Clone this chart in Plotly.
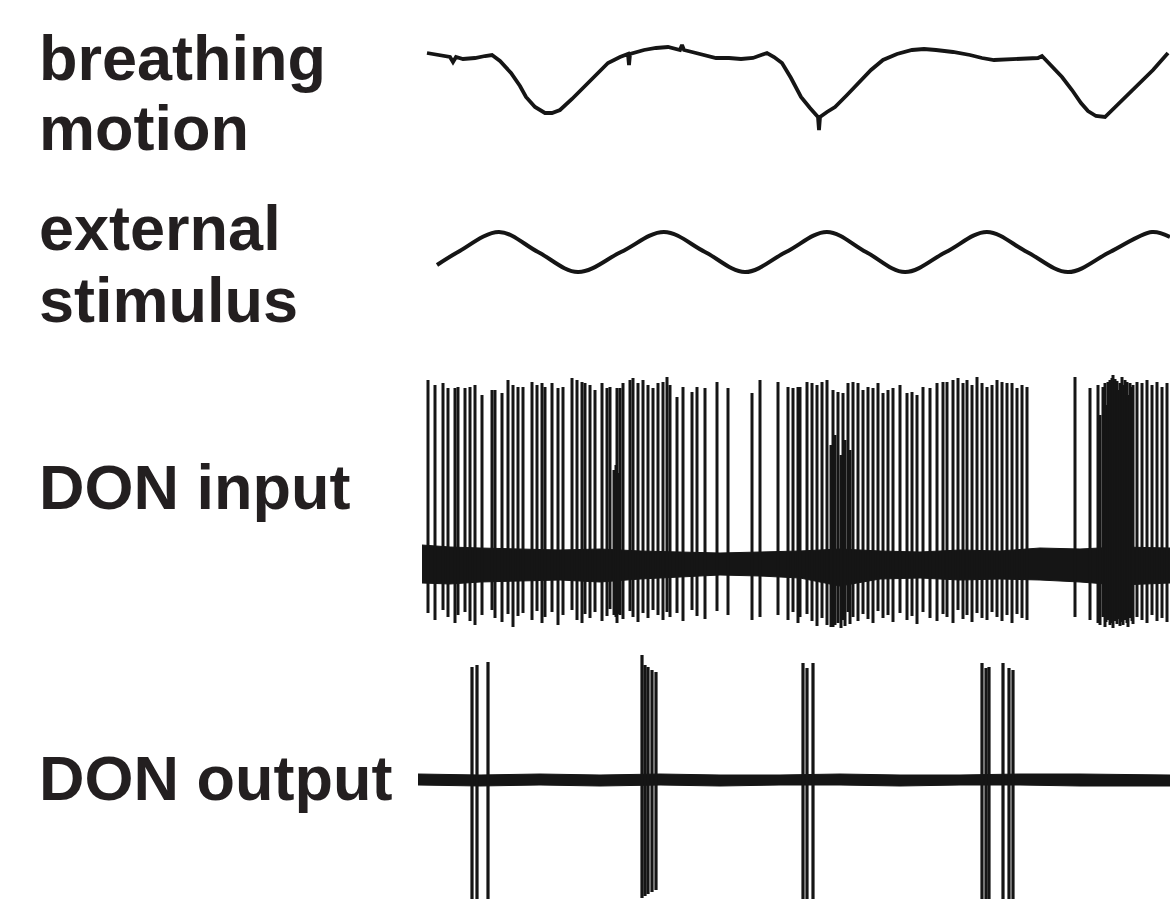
import plotly.graph_objects as go

# ---------------- data (time in samples, amplitude in arbitrary units) ----------------
breath_t = [7, 20, 30, 33, 36, 43, 55, 65, 72, 80, 91, 100, 106, 115, 125, 132, 140, 152, 164, 176,
            188, 200, 208, 209, 210, 224, 236, 248, 260, 262, 264, 272, 284, 296, 309, 321, 333, 340, 347, 354,
            362, 371, 381, 390, 398, 399, 400, 407, 415, 427, 439, 451, 463, 477, 492, 504, 516, 533, 550, 562,
            574, 596, 618, 622, 632, 642, 652, 661, 668, 676, 685, 697, 709, 721, 733, 748]
breath_v = [5, 3, 1, -4, 1, -1, 0, 2, 3, -3, -15, -28, -39, -49, -55, -55, -52, -41, -29, -17,
            -5, 1, 4, -7, 4, 8, 10, 11, 8, 13, 8, 6, 3, 0, 0, -1, 0, 3, 5, 1,
            -5, -20, -39, -50, -59, -72, -59, -54, -49, -37, -25, -12, -2, 4, 8, 9, 8, 6, 3, 0,
            -2, -1, 0, 2, -8, -19, -32, -45, -53, -58, -59, -47, -35, -23, -12, 5]

stim_t = [17, 38, 79, 118, 158, 201, 244, 285, 325, 366, 407, 446, 485, 526, 567, 607, 648, 690, 732, 750]
stim_v = [-13, 0, 20, 0, -20, 0, 20, 0, -20, 0, 20, 0, -20, 0, 20, 0, -20, 0, 20, 15]

input_spike_t = [8, 15, 23, 28, 35, 38, 45, 50, 55, 62, 72, 75, 82, 88, 93, 98, 103, 112, 117, 122,
                 125, 132, 138, 143, 152, 157, 162, 165, 170, 175, 182, 187, 190, 197, 200, 203, 210, 213, 218, 223,
                 228, 233, 238, 243, 247, 250, 257, 263, 272, 277, 285, 297, 308, 332, 340,
                 194, 196, 198,
                 358, 368, 373, 378, 380, 387, 392, 397, 402, 407, 413, 418, 423, 428, 433, 438, 443, 448, 453, 458,
                 463, 468, 473, 480, 487, 492, 497, 503, 510, 517, 523, 527, 533, 538, 543, 547, 552, 557, 562, 567,
                 572, 577, 582, 587, 592, 597, 602, 607, 655,
                 411, 415, 421, 425, 430,
                 670, 678, 680, 683, 685, 686, 688, 690, 692, 693, 695, 697, 698, 700, 702, 703, 705, 707, 708, 710,
                 712, 713, 717, 722, 727, 732, 737, 742, 747]
input_spike_top = [185, 180, 182, 177, 177, 178, 177, 178, 180, 170, 175, 175, 172, 185, 180, 178, 178, 183, 180, 182,
                   178, 182, 177, 178, 187, 185, 183, 182, 180, 175, 182, 177, 178, 177, 177, 182, 185, 187, 182, 185,
                   180, 177, 182, 183, 188, 180, 168, 178, 173, 178, 177, 183, 177, 172, 185,
                   95, 100, 92,
                   183, 178, 177, 178, 178, 183, 182, 180, 183, 185, 175, 173, 172, 182, 183, 182, 175, 178, 177, 182,
                   172, 175, 177, 180, 172, 173, 170, 178, 177, 182, 183, 183, 185, 187, 182, 185, 180, 188, 182, 178,
                   180, 185, 183, 182, 182, 177, 180, 178, 188,
                   120, 130, 110, 125, 115,
                   177, 180, 150, 178, 182, 160, 183, 185, 187, 190, 186, 184, 175, 182, 188, 180, 185, 183, 170, 182,
                   178, 180, 183, 182, 185, 180, 183, 178, 182]
input_spike_bottom = [-48, -55, -45, -52, -58, -50, -47, -56, -60, -50, -45, -53, -57, -49, -62, -51, -48, -55, -46, -58,
                      -52, -47, -60, -50, -45, -55, -58, -49, -53, -47, -56, -51, -44, -58, -50, -54, -46, -52, -57, -48,
                      -53, -45, -50, -55, -47, -52, -48, -56, -45, -51, -54, -46, -50, -55, -52,
                      -50, -52, -49,
                      -50, -55, -47, -58, -52, -49, -56, -61, -53, -60, -62, -58, -55, -47, -52, -56, -49, -54, -58, -46,
                      -53, -50, -57, -48, -55, -51, -59, -47, -53, -56, -49, -52, -58, -45, -54, -50, -57, -48, -53, -55,
                      -47, -52, -56, -50, -58, -49, -53, -55, -52,
                      -62, -60, -63, -61, -59,
                      -55, -58, -60, -52, -62, -57, -55, -60, -58, -63, -56, -59, -54, -61, -57, -60, -55, -58, -62, -53,
                      -56, -59, -52, -55, -58, -50, -56, -53, -57]

input_band_t = [2, 30, 60, 100, 140, 180, 220, 260, 300, 340, 380, 420, 460, 500, 540, 580, 620, 660, 700, 750]
input_band_hi = [20, 18, 17, 16, 15, 16, 14, 13, 12, 13, 14, 16, 14, 13, 15, 14, 17, 16, 18, 17]
input_band_lo = [-18, -19, -17, -16, -15, -17, -14, -12, -10, -11, -13, -21, -14, -13, -15, -14, -15, -17, -20, -18]

output_spike_t = [52, 57, 68, 222, 225, 228, 232, 236, 383, 387, 393, 562, 566, 569, 583, 589, 593]
output_spike_top = [113, 115, 118, 125, 115, 113, 110, 108, 117, 112, 117, 117, 112, 113, 117, 112, 110]
output_spike_bottom = [-130, -130, -130, -118, -116, -114, -112, -110, -130, -130, -130, -130, -125, -122, -130, -130, -128]

output_band_t = [-2, 60, 120, 180, 240, 300, 360, 420, 480, 540, 600, 660, 750]
output_band_hi = [6, 5, 6, 5, 6, 5, 5, 6, 5, 5, 6, 6, 5]
output_band_lo = [-5, -6, -5, -6, -5, -6, -5, -5, -6, -5, -5, -6, -6]

labels = [("breathing", 80), ("motion", 150), ("external", 250), ("stimulus", 322),
          ("DON input", 509), ("DON output", 800)]

# ---------------- layout helpers ----------------
W, H = 1170, 899
INK = "#151515"


def dom(top_px, bot_px):
    return [1 - bot_px / H, 1 - top_px / H]


def spikes(ts, tops, bots):
    xs, ys = [], []
    for t, a, b in zip(ts, tops, bots):
        xs += [t, t, None]
        ys += [b, a, None]
    return xs, ys


fig = go.Figure()

# breathing motion
fig.add_trace(go.Scatter(x=breath_t, y=breath_v, mode="lines", yaxis="y",
                         line=dict(color=INK, width=3.8), hoverinfo="skip"))
# external stimulus
fig.add_trace(go.Scatter(x=stim_t, y=stim_v, mode="lines", yaxis="y2",
                         line=dict(color=INK, width=4, shape="spline", smoothing=1.0), hoverinfo="skip"))
# DON input band + spikes
fig.add_trace(go.Scatter(x=input_band_t, y=input_band_hi, mode="lines", yaxis="y3",
                         line=dict(color=INK, width=1), hoverinfo="skip"))
fig.add_trace(go.Scatter(x=input_band_t, y=input_band_lo, mode="lines", yaxis="y3", fill="tonexty",
                         fillcolor=INK, line=dict(color=INK, width=1), hoverinfo="skip"))
sx, sy = spikes(input_spike_t, input_spike_top, input_spike_bottom)
fig.add_trace(go.Scatter(x=sx, y=sy, mode="lines", yaxis="y3",
                         line=dict(color=INK, width=3), hoverinfo="skip"))
# DON output band + spikes
fig.add_trace(go.Scatter(x=output_band_t, y=output_band_hi, mode="lines", yaxis="y4",
                         line=dict(color=INK, width=1), hoverinfo="skip"))
fig.add_trace(go.Scatter(x=output_band_t, y=output_band_lo, mode="lines", yaxis="y4", fill="tonexty",
                         fillcolor=INK, line=dict(color=INK, width=1), hoverinfo="skip"))
ox, oy = spikes(output_spike_t, output_spike_top, output_spike_bottom)
fig.add_trace(go.Scatter(x=ox, y=oy, mode="lines", yaxis="y4",
                         line=dict(color=INK, width=3.2), hoverinfo="skip"))

hidden = dict(visible=False, showgrid=False, zeroline=False, fixedrange=True)
fig.update_layout(
    width=W, height=H, margin=dict(l=0, r=0, t=0, b=0),
    paper_bgcolor="white", plot_bgcolor="white", showlegend=False,
    xaxis=dict(domain=[0, 1], range=[-420, 750], anchor="y", **hidden),
    yaxis=dict(domain=dom(0, 180), range=[58 - 180, 58 - 0], anchor="x", **hidden),
    yaxis2=dict(domain=dom(180, 330), range=[252 - 330, 252 - 180], anchor="x", **hidden),
    yaxis3=dict(domain=dom(330, 645), range=[565 - 645, 565 - 330], anchor="x", **hidden),
    yaxis4=dict(domain=dom(645, 899), range=[780 - 899, 780 - 645], anchor="x", **hidden),
)

FS = 63
for text, base_px in labels:
    fig.add_annotation(text="<b>" + text + "</b>", xref="paper", yref="paper",
                       x=37 / W, y=1 - (base_px - 0.3465 * FS) / H,
                       xanchor="left", yanchor="middle", showarrow=False,
                       font=dict(family="Liberation Sans, Arial, sans-serif", size=FS, color="#231f20"))

fig.write_html("out.html", config={"displayModeBar": False},
               post_script="document.body.style.margin='0';document.body.style.overflow='hidden';")
